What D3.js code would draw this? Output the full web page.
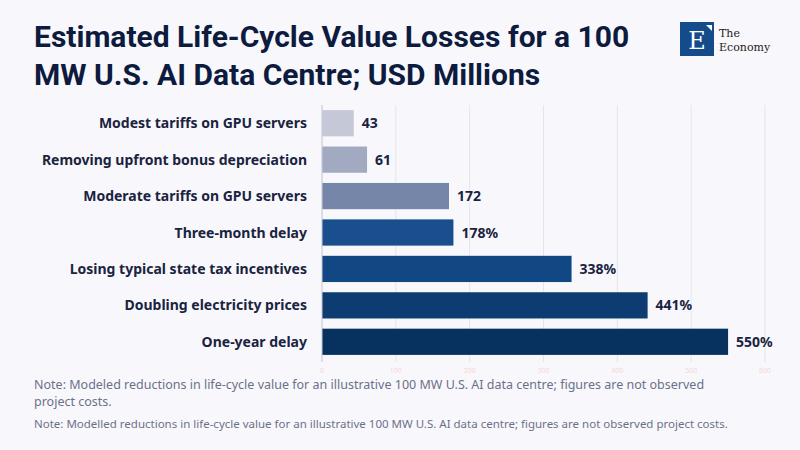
<!DOCTYPE html>
<html>
<head>
<meta charset="utf-8">
<script src="https://cdn.jsdelivr.net/npm/d3@7"></script>
<style>
  body { margin:0; background:#f8f8fc; }
  svg { font-family: "Noto Sans", sans-serif; }
</style>
</head>
<body>
<svg id="chart" width="800" height="450"></svg>
<script>
var categories = ["Modest tariffs on GPU servers", "Removing upfront bonus depreciation",
  "Moderate tariffs on GPU servers", "Three-month delay", "Losing typical state tax incentives",
  "Doubling electricity prices", "One-year delay"];
var values = [43, 61, 172, 178, 338, 441, 550];
var valueLabels = ["43", "61", "172", "178%", "338%", "441%", "550%"];
var colors = ["#c5c9d7", "#a2aac1", "#7686a9", "#184f8c", "#114782", "#0c3c72", "#07315f"];
var ticks = [0, 100, 200, 300, 400, 500, 600];

var svg = d3.select("#chart");
svg.append("rect").attr("width", 800).attr("height", 450).attr("fill", "#f8f8fc");

var title = svg.append("text").attr("font-family", "Roboto, sans-serif")
  .attr("font-weight", 700).attr("font-size", 30).attr("fill", "#0d1b3e");
title.append("tspan").attr("x", 34).attr("y", 47).text("Estimated Life-Cycle Value Losses for a 100");
title.append("tspan").attr("x", 34).attr("y", 85).text("MW U.S. AI Data Centre; USD Millions");

// logo
var logo = svg.append("g").attr("transform", "translate(680,22)");
logo.append("rect").attr("width", 34).attr("height", 34).attr("fill", "#144b8a");
logo.append("text").attr("x", 17).attr("y", 27).attr("text-anchor", "middle")
  .attr("font-family", "DejaVu Serif, serif").attr("font-size", 24).attr("fill", "#fff").text("E");
logo.append("path").attr("d", "M26,3 L32,3 L32,9 Z").attr("fill", "#fff");
logo.append("text").attr("x", 39).attr("y", 15).attr("font-family", "DejaVu Serif, serif")
  .attr("font-size", 11).attr("fill", "#222").text("The");
logo.append("text").attr("x", 39).attr("y", 29).attr("font-family", "DejaVu Serif, serif")
  .attr("font-size", 11).attr("fill", "#222").text("Economy");

var x = d3.scaleLinear().domain([0, 600]).range([322, 765]);
var y = d3.scaleBand().domain(categories).range([105, 360]).paddingInner(0.28).paddingOuter(0.14);

svg.append("g").selectAll("line").data(ticks).join("line")
  .attr("x1", d => x(d)).attr("x2", d => x(d)).attr("y1", 105).attr("y2", 362)
  .attr("stroke", "#e3e5ee").attr("stroke-width", 1);

svg.append("g").selectAll("text").data(ticks).join("text")
  .attr("x", d => x(d)).attr("y", 373).attr("text-anchor", "middle")
  .attr("font-size", 7).attr("fill", "#f6d6d6").text(d => d);

svg.append("g").selectAll("rect").data(values).join("rect")
  .attr("x", x(0)).attr("y", (d, i) => y(categories[i]))
  .attr("width", d => x(d) - x(0)).attr("height", y.bandwidth())
  .attr("fill", (d, i) => colors[i]);

svg.append("line").attr("x1", x(0)).attr("x2", x(0)).attr("y1", 105).attr("y2", 362)
  .attr("stroke", "#c9ccd8");

svg.append("g").selectAll("text").data(categories).join("text")
  .attr("x", 307).attr("y", d => y(d) + y.bandwidth() / 2 + 5).attr("text-anchor", "end")
  .attr("font-size", 14).attr("font-weight", 700).attr("fill", "#1a2340").text(d => d);

svg.append("g").selectAll("text").data(values).join("text")
  .attr("x", d => x(d) + 8).attr("y", (d, i) => y(categories[i]) + y.bandwidth() / 2 + 5)
  .attr("font-size", 14).attr("font-weight", 700).attr("fill", "#1a2340").text((d, i) => valueLabels[i]);

svg.append("text").attr("font-size", 12.5).attr("fill", "#6b7088")
  .selectAll("tspan").data(["Note: Modeled reductions in life-cycle value for an illustrative 100 MW U.S. AI data centre; figures are not observed", "project costs."])
  .join("tspan").attr("x", 34).attr("y", (d, i) => 389 + i * 17).text(d => d);

svg.append("text").attr("x", 34).attr("y", 428).attr("font-size", 11.5).attr("fill", "#6b7088")
  .text("Note: Modelled reductions in life-cycle value for an illustrative 100 MW U.S. AI data centre; figures are not observed project costs.");
</script>
</body>
</html>
